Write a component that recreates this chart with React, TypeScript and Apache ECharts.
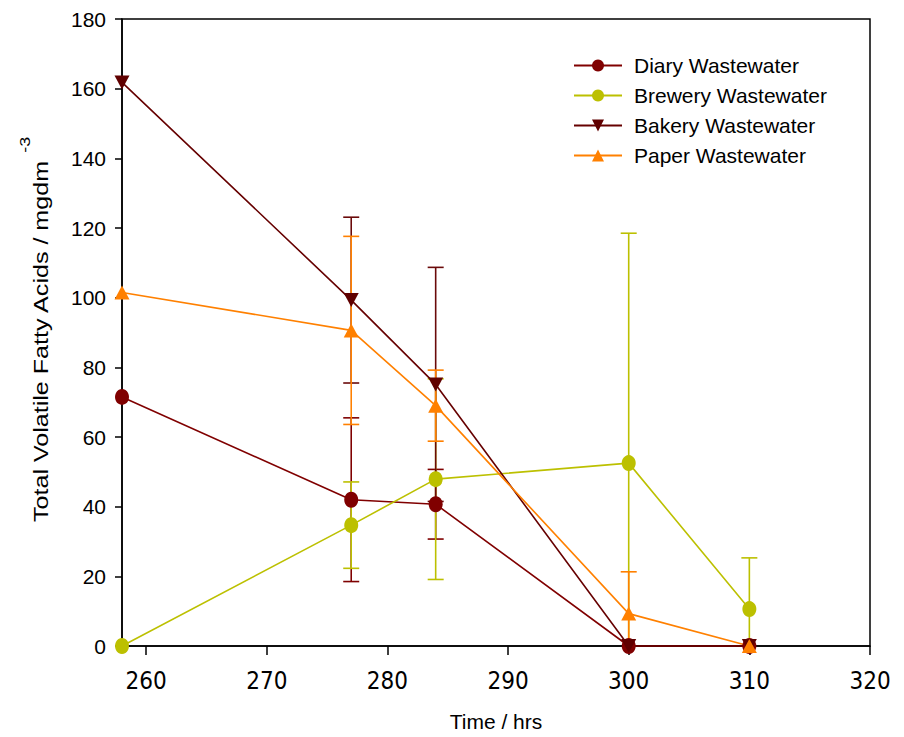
import React, { useEffect, useRef } from "react";
import * as echarts from "echarts";

const times = [258, 277, 284, 300, 310];
const diary = [71.5, 42, 40.7, 0, 0];
const diaryErr = [0, 23.5, 10, 0, 0];
const brewery = [0, 34.7, 47.9, 52.5, 10.6];
const breweryErr = [0, 12.4, 28.8, 66, 14.7];
const bakery = [161.8, 99.3, 75.1, 0, 0];
const bakeryErr = [0, 23.8, 33.6, 0, 0];
const paper = [101.5, 90.6, 69, 9.3, 0];
const paperErr = [0, 27, 10.2, 12, 0];

const xTicks = [260, 270, 280, 290, 300, 310, 320];
const yTitle = "Total Volatile Fatty Acids / mgdm";
const yTitleSup = "-3";
const xTitle = "Time / hrs";

const FONT = "'Liberation Sans', Arial, sans-serif";
const NARROW = "'Liberation Sans Narrow', 'Arial Narrow', 'DejaVu Sans Condensed', sans-serif";

function errData(vals: number[], errs: number[]) {
  const out: number[][] = [];
  vals.forEach((v, i) => {
    const e = errs[i];
    if (!e) return;
    const lo = v - e;
    out.push([times[i], Math.max(0, lo), v + e, lo >= 0 ? 1 : 0]);
  });
  return out;
}

function errSeries(name: string, vals: number[], errs: number[], color: string) {
  return {
    type: "custom",
    name,
    data: errData(vals, errs),
    clip: false,
    z: 2,
    renderItem: (params: any, api: any) => {
      const x = api.value(0);
      const lo = api.coord([x, api.value(1)]);
      const hi = api.coord([x, api.value(2)]);
      const showLo = api.value(3) === 1;
      const w = 8;
      const style = { stroke: color, lineWidth: 1.6, fill: null };
      const children: any[] = [
        { type: "line", shape: { x1: lo[0], y1: lo[1], x2: hi[0], y2: hi[1] }, style },
        { type: "line", shape: { x1: hi[0] - w, y1: hi[1], x2: hi[0] + w, y2: hi[1] }, style },
      ];
      if (showLo) {
        children.push({ type: "line", shape: { x1: lo[0] - w, y1: lo[1], x2: lo[0] + w, y2: lo[1] }, style });
      }
      return { type: "group", children };
    },
  };
}

function lineSeries(name: string, vals: number[], color: string, symbol: string, size: any, rotate = 0, markerColor?: string) {
  return {
    type: "line",
    name,
    data: vals.map((v, i) => [times[i], v]),
    symbol,
    symbolSize: size,
    symbolRotate: rotate,
    showAllSymbol: true,
    clip: false,
    z: 3,
    lineStyle: { color, width: 1.6 },
    itemStyle: { color: markerColor || color },
  };
}

export default function App() {
  const ref = useRef<HTMLDivElement>(null);
  useEffect(() => {
    if (!ref.current) return;
    const chart = echarts.init(ref.current, null, { renderer: "svg" });
    chart.setOption({
      animation: false,
      backgroundColor: "#fff",
      textStyle: { fontFamily: FONT, color: "#000" },
      grid: {
        left: 114,
        right: 26,
        top: 11,
        bottom: 91,
        show: true,
        borderColor: "#000",
        borderWidth: 1.5,
        backgroundColor: "transparent",
      },
      legend: {
        orient: "vertical",
        left: 560,
        top: 42,
        itemWidth: 48,
        itemHeight: 15,
        itemGap: 9,
        data: ["Diary Wastewater", "Brewery Wastewater", "Bakery Wastewater", "Paper Wastewater"],
        textStyle: { fontFamily: FONT, fontSize: 21, color: "#000", padding: [0, 0, 0, 7] },
      },
      graphic: [
        {
          type: "group",
          x: 32.5,
          y: 514,
          rotation: Math.PI / 2,
          scaleX: 1.195,
          children: [
            {
              type: "text",
              x: 0,
              y: 0,
              style: { text: yTitle, fontFamily: FONT, fontSize: 21, fill: "#000", align: "left", verticalAlign: "middle" },
            },
            {
              type: "text",
              x: 309,
              y: -15.5,
              style: { text: yTitleSup, fontFamily: FONT, fontSize: 15, fill: "#000", align: "left", verticalAlign: "middle" },
            },
          ],
        },
      ],
      xAxis: {
        type: "value",
        min: 258,
        max: 320,
        name: xTitle,
        nameLocation: "middle",
        nameGap: 65,
        nameTextStyle: { fontFamily: FONT, fontSize: 21, color: "#000" },
        axisLine: { show: true, lineStyle: { color: "#000", width: 1.5 } },
        axisTick: { show: true, length: 9, lineStyle: { color: "#000", width: 1.5 }, customValues: xTicks },
        axisLabel: { fontFamily: NARROW, fontSize: 24, color: "#000", margin: 23, customValues: xTicks },
        splitLine: { show: false },
      },
      yAxis: {
        type: "value",
        min: 0,
        max: 180,
        interval: 20,
        axisLine: { show: true, lineStyle: { color: "#000", width: 1.5 } },
        axisTick: { show: true, length: 7, lineStyle: { color: "#000", width: 1.5 } },
        axisLabel: { fontFamily: FONT, fontSize: 21, color: "#000", margin: 16 },
        splitLine: { show: false },
      },
      series: [
        errSeries("Diary err", diary, diaryErr, "#7f0000"),
        errSeries("Brewery err", brewery, breweryErr, "#bcc000"),
        errSeries("Bakery err", bakery, bakeryErr, "#6a0a0a"),
        errSeries("Paper err", paper, paperErr, "#ff8000"),
        lineSeries("Diary Wastewater", diary, "#800000", "circle", [14, 16]),
        lineSeries("Brewery Wastewater", brewery, "#bcc000", "circle", [14, 16]),
        lineSeries("Bakery Wastewater", bakery, "#660000", "triangle", [15, 14], 180, "#600000"),
        lineSeries("Paper Wastewater", paper, "#ff8000", "triangle", [15, 14]),
      ],
    });
    return () => chart.dispose();
  }, []);
  return <div ref={ref} style={{ width: 888, height: 729 }} />;
}
